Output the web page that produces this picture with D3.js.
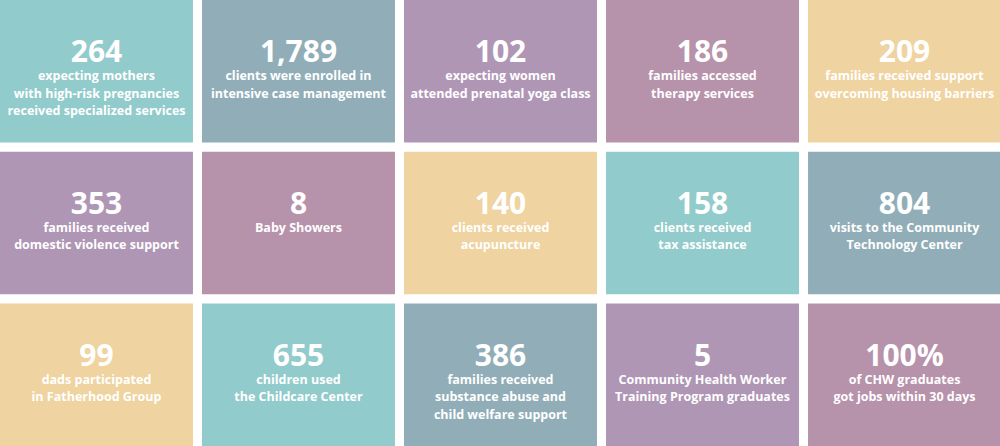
<!DOCTYPE html>
<html><head><meta charset="utf-8">
<script src="https://cdn.jsdelivr.net/npm/d3@7"></script>
<style>body{margin:0;background:#fff}svg{display:block}</style>
</head><body><svg id="c" width="1000" height="446"></svg>
<script>
const values = ["264","1,789","102","186","209","353","8","140","158","804","99","655","386","5","100%"];
const labels = [
 ["expecting mothers","with high-risk pregnancies","received specialized services"],
 ["clients were enrolled in","intensive case management"],
 ["expecting women","attended prenatal yoga class"],
 ["families accessed","therapy services"],
 ["families received support","overcoming housing barriers"],
 ["families received","domestic violence support"],
 ["Baby Showers"],
 ["clients received","acupuncture"],
 ["clients received","tax assistance"],
 ["visits to the Community","Technology Center"],
 ["dads participated","in Fatherhood Group"],
 ["children used","the Childcare Center"],
 ["families received","substance abuse and","child welfare support"],
 ["Community Health Worker","Training Program graduates"],
 ["of CHW graduates","got jobs within 30 days"]
];
const colorKeys = ["teal","slate","purple","mauve","peach","purple","mauve","peach","teal","slate","peach","teal","slate","purple","mauve"];
const palette = {teal:"#92cbcb",slate:"#91aeb8",purple:"#b096b5",mauve:"#b792ab",peach:"#efd3a0"};
const color = d3.scaleOrdinal().domain(Object.keys(palette)).range(Object.values(palette));
const x = d3.scaleBand().domain(d3.range(5)).range([0,1001]).paddingInner(0.0448).paddingOuter(0);
const y = d3.scaleBand().domain(d3.range(3)).range([0,446]).paddingInner(0.061).paddingOuter(0);
const svg = d3.select("#c");
const g = svg.selectAll("g").data(values).join("g")
  .attr("transform",(d,i)=>`translate(${x(i%5)},${y(Math.floor(i/5))})`);
g.append("rect").attr("width",x.bandwidth()).attr("height",y.bandwidth()).attr("fill",(d,i)=>color(colorKeys[i]));
const cx = x.bandwidth()/2;
g.append("text").attr("x",cx).attr("y",62).attr("text-anchor","middle")
 .attr("fill","#fff").attr("font-family","Open Sans").attr("font-weight",700).attr("font-size",30).text(d=>d);
g.each(function(d,i){
  d3.select(this).selectAll("text.l").data(labels[i]).join("text").attr("class","l")
   .attr("x",cx).attr("y",(t,j)=>80+j*17.5).attr("text-anchor","middle")
   .attr("fill","#fff").attr("font-family","Open Sans").attr("font-weight",700).attr("font-size",12.5).text(t=>t);
});
</script></body></html>
